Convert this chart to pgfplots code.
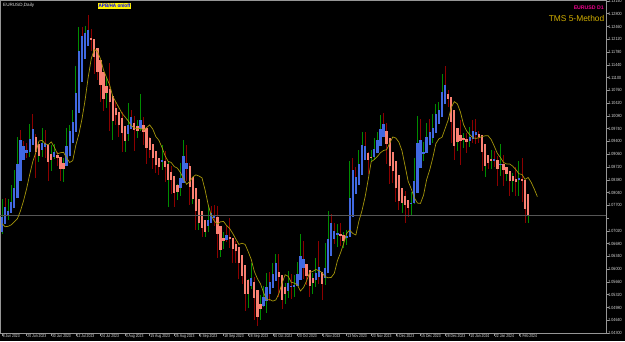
\documentclass[border=0pt]{standalone}
\usepackage{pgfplots}
\pgfplotsset{compat=1.18}
\usepackage{pgfplotstable}
\usepackage{fontspec}
\setmainfont{Liberation Sans}
\definecolor{bullbody}{RGB}{65,105,225}
\definecolor{bearbody}{RGB}{250,128,114}
\definecolor{bullwick}{RGB}{0,140,0}
\definecolor{bearwick}{RGB}{140,0,0}
\definecolor{maline}{RGB}{165,150,10}
\definecolor{axgray}{RGB}{150,150,150}
\definecolor{pricegray}{RGB}{85,85,85}
\definecolor{tmsgold}{RGB}{210,175,0}
\definecolor{lbl}{RGB}{220,220,220}

% Heikin-Ashi style bars: i open high low close, w = 1 green wick / 0 red wick
\pgfplotstableread{
i o h l c w
0 1.0700 1.0786 1.0694 1.0740 1
1 1.0720 1.0790 1.0720 1.0765 0
2 1.0742 1.0788 1.0732 1.0755 1
3 1.0749 1.0823 1.0749 1.0780 1
4 1.0764 1.0865 1.0764 1.0816 1
5 1.0790 1.0951 1.0790 1.0880 1
6 1.0835 1.0971 1.0835 1.0944 0
7 1.0890 1.0942 1.0890 1.0927 0
8 1.0909 1.0935 1.0897 1.0918 0
9 1.0913 1.0986 1.0898 1.0946 1
10 1.0930 1.1012 1.0930 1.0973 0
11 1.0951 1.0960 1.0844 1.0913 0
12 1.0932 1.0932 1.0885 1.0902 1
13 1.0917 1.0976 1.0898 1.0935 1
14 1.0926 1.0970 1.0897 1.0935 0
15 1.0930 1.0930 1.0834 1.0884 0
16 1.0907 1.0930 1.0860 1.0891 1
17 1.0899 1.0934 1.0892 1.0912 1
18 1.0905 1.0913 1.0874 1.0895 0
19 1.0900 1.0900 1.0834 1.0866 0
20 1.0883 1.0895 1.0833 1.0867 1
21 1.0875 1.0975 1.0875 1.0928 1
22 1.0901 1.0985 1.0901 1.0968 1
23 1.0935 1.1025 1.0935 1.0993 1
24 1.0964 1.1140 1.0964 1.1070 1
25 1.1017 1.1245 1.1017 1.1181 1
26 1.1099 1.1245 1.1099 1.1221 0
27 1.1160 1.1248 1.1160 1.1229 1
28 1.1195 1.1276 1.1195 1.1237 0
29 1.1216 1.1240 1.1180 1.1212 0
30 1.1214 1.1214 1.1119 1.1166 0
31 1.1190 1.1190 1.1104 1.1126 0
32 1.1158 1.1158 1.1045 1.1090 0
33 1.1124 1.1124 1.1020 1.1052 0
34 1.1088 1.1109 1.1030 1.1070 1
35 1.1079 1.1149 1.0967 1.1045 0
36 1.1062 1.1062 1.0943 1.0994 1
37 1.1028 1.1045 1.0985 1.1011 0
38 1.1019 1.1019 1.0952 1.0984 0
39 1.1002 1.1018 1.0912 1.0963 0
40 1.0982 1.0982 1.0912 1.0940 1
41 1.0961 1.1042 1.0942 1.0984 1
42 1.0973 1.1025 1.0972 1.1004 0
43 1.0988 1.1008 1.0915 1.0971 0
44 1.0980 1.0998 1.0950 1.0969 1
45 1.0974 1.1065 1.0967 1.0997 1
46 1.0985 1.1004 1.0930 1.0966 0
47 1.0976 1.0976 1.0880 1.0922 0
48 1.0949 1.0953 1.0897 1.0916 0
49 1.0932 1.0934 1.0866 1.0896 0
50 1.0914 1.0914 1.0855 1.0878 0
51 1.0896 1.0896 1.0851 1.0872 0
52 1.0884 1.0930 1.0864 1.0890 1
53 1.0887 1.0914 1.0832 1.0872 0
54 1.0879 1.0887 1.0766 1.0837 1
55 1.0858 1.0875 1.0800 1.0837 0
56 1.0848 1.0848 1.0766 1.0803 0
57 1.0825 1.0828 1.0785 1.0806 1
58 1.0816 1.0882 1.0795 1.0844 1
59 1.0830 1.0945 1.0830 1.0902 1
60 1.0866 1.0930 1.0835 1.0883 0
61 1.0874 1.0882 1.0770 1.0818 0
62 1.0846 1.0846 1.0773 1.0788 1
63 1.0817 1.0817 1.0705 1.0754 0
64 1.0786 1.0786 1.0703 1.0724 1
65 1.0755 1.0755 1.0686 1.0710 0
66 1.0732 1.0732 1.0686 1.0700 1
67 1.0716 1.0767 1.0698 1.0730 1
68 1.0723 1.0768 1.0723 1.0750 0
69 1.0737 1.0770 1.0715 1.0742 0
70 1.0740 1.0768 1.0630 1.0693 0
71 1.0716 1.0716 1.0632 1.0651 1
72 1.0684 1.0699 1.0655 1.0675 1
73 1.0679 1.0718 1.0673 1.0690 0
74 1.0685 1.0737 1.0655 1.0683 0
75 1.0684 1.0684 1.0617 1.0653 0
76 1.0668 1.0675 1.0616 1.0649 0
77 1.0659 1.0659 1.0573 1.0617 0
78 1.0638 1.0638 1.0561 1.0583 0
79 1.0610 1.0610 1.0488 1.0534 0
80 1.0572 1.0574 1.0496 1.0535 1
81 1.0554 1.0617 1.0546 1.0576 1
82 1.0565 1.0579 1.0465 1.0524 0
83 1.0544 1.0544 1.0448 1.0473 0
84 1.0508 1.0532 1.0465 1.0493 1
85 1.0501 1.0554 1.0499 1.0527 1
86 1.0514 1.0589 1.0483 1.0552 1
87 1.0533 1.0592 1.0516 1.0565 0
88 1.0549 1.0616 1.0549 1.0586 1
89 1.0568 1.0640 1.0568 1.0616 1
90 1.0592 1.0640 1.0525 1.0579 0
91 1.0585 1.0585 1.0495 1.0518 0
92 1.0552 1.0564 1.0506 1.0534 1
93 1.0543 1.0594 1.0523 1.0563 1
94 1.0553 1.0588 1.0521 1.0556 0
95 1.0554 1.0585 1.0525 1.0557 1
96 1.0556 1.0620 1.0556 1.0588 1
97 1.0572 1.0695 1.0572 1.0634 1
98 1.0603 1.0676 1.0575 1.0628 0
99 1.0615 1.0615 1.0557 1.0581 0
100 1.0598 1.0598 1.0525 1.0556 0
101 1.0577 1.0590 1.0535 1.0563 1
102 1.0570 1.0630 1.0552 1.0590 1
103 1.0580 1.0675 1.0560 1.0606 0
104 1.0593 1.0593 1.0517 1.0561 0
105 1.0577 1.0669 1.0557 1.0604 1
106 1.0591 1.0756 1.0591 1.0680 1
107 1.0635 1.0747 1.0635 1.0723 0
108 1.0679 1.0723 1.0667 1.0702 0
109 1.0691 1.0720 1.0660 1.0697 1
110 1.0694 1.0722 1.0662 1.0690 0
111 1.0692 1.0698 1.0656 1.0676 1
112 1.0684 1.0704 1.0665 1.0688 1
113 1.0686 1.0887 1.0686 1.0790 1
114 1.0738 1.0895 1.0738 1.0863 0
115 1.0801 1.0872 1.0801 1.0846 0
116 1.0823 1.0917 1.0823 1.0879 1
117 1.0851 1.0965 1.0851 1.0931 1
118 1.0891 1.0965 1.0891 1.0929 0
119 1.0910 1.0912 1.0852 1.0890 0
120 1.0900 1.0918 1.0885 1.0898 1
121 1.0899 1.0950 1.0892 1.0921 1
122 1.0910 1.0965 1.0910 1.0945 1
123 1.0928 1.1010 1.0928 1.0974 1
124 1.0951 1.1017 1.0951 1.0987 0
125 1.0969 1.0989 1.0880 1.0932 0
126 1.0950 1.0950 1.0828 1.0875 0
127 1.0912 1.0912 1.0830 1.0861 0
128 1.0887 1.0887 1.0780 1.0815 0
129 1.0851 1.0851 1.0758 1.0782 0
130 1.0816 1.0816 1.0750 1.0775 1
131 1.0796 1.0808 1.0723 1.0772 0
132 1.0784 1.0784 1.0740 1.0762 0
133 1.0773 1.0805 1.0745 1.0777 1
134 1.0775 1.0895 1.0773 1.0834 1
135 1.0804 1.1009 1.0804 1.0936 1
136 1.0870 1.0999 1.0870 1.0944 0
137 1.0907 1.0938 1.0887 1.0911 1
138 1.0909 1.0988 1.0909 1.0951 1
139 1.0930 1.1000 1.0930 1.0965 0
140 1.0948 1.1012 1.0937 1.0976 1
141 1.0962 1.1040 1.0962 1.1013 1
142 1.0987 1.1045 1.0987 1.1025 1
143 1.1006 1.1120 1.1006 1.1073 1
144 1.1040 1.1140 1.1040 1.1090 0
145 1.1065 1.1078 1.1032 1.1053 0
146 1.1059 1.1059 1.0937 1.0991 0
147 1.1025 1.1025 1.0892 1.0929 0
148 1.0977 1.0977 1.0915 1.0938 1
149 1.0958 1.0998 1.0877 1.0940 0
150 1.0949 1.0963 1.0922 1.0944 1
151 1.0946 1.0962 1.0910 1.0938 0
152 1.0942 1.0979 1.0925 1.0952 1
153 1.0947 1.0998 1.0935 1.0969 0
154 1.0958 1.0999 1.0934 1.0964 0
155 1.0961 1.0967 1.0937 1.0952 0
156 1.0956 1.0956 1.0862 1.0911 0
157 1.0934 1.0934 1.0845 1.0875 1
158 1.0904 1.0904 1.0867 1.0882 0
159 1.0893 1.0916 1.0866 1.0889 1
160 1.0891 1.0915 1.0873 1.0893 0
161 1.0892 1.0901 1.0821 1.0866 0
162 1.0879 1.0932 1.0849 1.0880 1
163 1.0880 1.0905 1.0822 1.0864 0
164 1.0872 1.0872 1.0835 1.0852 1
165 1.0862 1.0862 1.0795 1.0835 0
166 1.0849 1.0855 1.0805 1.0834 1
167 1.0841 1.0873 1.0795 1.0832 0
168 1.0837 1.0888 1.0795 1.0843 1
169 1.0840 1.0897 1.0780 1.0834 0
170 1.0837 1.0837 1.0723 1.0761 0
171 1.0799 1.0799 1.0722 1.0741 1
}\ha

% moving average line
\pgfplotstableread{
j v
0 1.0721
1 1.0713
2 1.0714
3 1.0718
4 1.0726
5 1.0734
6 1.0755
7 1.0782
8 1.0814
9 1.0852
10 1.0886
11 1.0911
12 1.0941
13 1.0943
14 1.0934
15 1.0931
16 1.0939
17 1.0925
18 1.0907
19 1.0910
20 1.0911
21 1.0896
22 1.0884
23 1.0889
24 1.0930
25 1.0960
26 1.1000
27 1.1050
28 1.1110
29 1.1160
30 1.1185
31 1.1180
32 1.1160
33 1.1130
34 1.1110
35 1.1090
36 1.1060
37 1.1045
38 1.1030
39 1.1015
40 1.1005
41 1.0995
42 1.0982
43 1.0976
44 1.0974
45 1.0975
46 1.0970
47 1.0977
48 1.0984
49 1.0973
50 1.0953
51 1.0943
52 1.0924
53 1.0902
54 1.0887
55 1.0884
56 1.0873
57 1.0869
58 1.0857
59 1.0841
60 1.0826
61 1.0833
62 1.0845
63 1.0851
64 1.0848
65 1.0843
66 1.0811
67 1.0772
68 1.0743
69 1.0728
70 1.0720
71 1.0726
72 1.0727
73 1.0716
74 1.0708
75 1.0695
76 1.0680
77 1.0666
78 1.0669
79 1.0666
80 1.0647
81 1.0626
82 1.0594
83 1.0575
84 1.0561
85 1.0538
86 1.0518
87 1.0519
88 1.0515
89 1.0518
90 1.0535
91 1.0562
92 1.0585
93 1.0581
94 1.0565
95 1.0563
96 1.0558
97 1.0542
98 1.0551
99 1.0569
100 1.0591
101 1.0594
102 1.0599
103 1.0596
104 1.0591
105 1.0580
106 1.0577
107 1.0578
108 1.0589
109 1.0622
110 1.0643
111 1.0667
112 1.0695
113 1.0704
114 1.0695
115 1.0691
116 1.0728
117 1.0756
118 1.0792
119 1.0838
120 1.0886
121 1.0892
122 1.0900
123 1.0910
124 1.0916
125 1.0918
126 1.0935
127 1.0952
128 1.0949
129 1.0938
130 1.0915
131 1.0875
132 1.0834
133 1.0814
134 1.0790
135 1.0776
136 1.0775
137 1.0797
138 1.0838
139 1.0864
140 1.0896
141 1.0934
142 1.0947
143 1.0951
144 1.0974
145 1.0997
146 1.1030
147 1.1046
148 1.1040
149 1.1018
150 1.0985
151 1.0968
152 1.0958
153 1.0950
154 1.0948
155 1.0950
156 1.0953
157 1.0955
158 1.0955
159 1.0945
160 1.0927
161 1.0908
162 1.0897
163 1.0884
164 1.0880
165 1.0880
166 1.0874
167 1.0865
168 1.0854
169 1.0852
170 1.0839
171 1.0844
172 1.0831
173 1.0813
174 1.0793
}\ma

\begin{document}
\begin{tikzpicture}
\useasboundingbox (0,0) rectangle (625pt,341pt);
\fill[black] (0,0) rectangle (625pt,341pt);
\begin{axis}[
  at={(0pt,8pt)}, anchor=south west,
  scale only axis, width=606pt, height=333pt,
  xmin=-0.65, xmax=196.3, ymin=1.0430, ymax=1.13166,
  axis line style={axgray, line width=0.6pt},
  xtick pos=bottom, ytick pos=right, yticklabel pos=right,
  tick align=outside, major tick length=3pt,
  tick style={axgray, line width=0.5pt},
  xtick={0,8,...,168},
  xticklabels={8 Jun 2023,20 Jun 2023,30 Jun 2023,12 Jul 2023,24 Jul 2023,3 Aug 2023,15 Aug 2023,25 Aug 2023,6 Sep 2023,18 Sep 2023,28 Sep 2023,10 Oct 2023,20 Oct 2023,1 Nov 2023,13 Nov 2023,23 Nov 2023,5 Dec 2023,15 Dec 2023,28 Dec 2023,10 Jan 2024,22 Jan 2024,1 Feb 2024},
  xticklabel style={anchor=north west, font=\fontsize{4.4}{5}\selectfont, text=lbl, inner sep=0pt, xscale=0.78, xshift=0.8pt, yshift=1.5pt},
  ytick={1.0430,1.0464,1.0498,1.0532,1.0566,1.0600,1.0634,1.0668,1.0702,1.0736,1.0770,1.0804,1.0838,1.0872,1.0906,1.0940,1.0974,1.1008,1.1042,1.1076,1.1110,1.1144,1.1178,1.1212,1.1246,1.1280,1.1314},
  yticklabels={1.04300,1.04640,1.04980,1.05320,1.05660,1.06000,1.06340,1.06680,1.07020,{},1.07700,1.08040,1.08380,1.08720,1.09060,1.09400,1.09740,1.10080,1.10420,1.10760,1.11100,1.11440,1.11780,1.12120,1.12460,1.12800,1.13140},
  yticklabel style={anchor=west, font=\fontsize{4.5}{5}\selectfont, text=lbl, inner sep=0pt, xscale=0.82, xshift=-1pt},
]
% wicks
\addplot[draw=none, forget plot, restrict expr to domain={\thisrow{w}}{0.5:1.5},
  error bars/.cd, y dir=both, y explicit, error mark=none,
  error bar style={draw=bullwick, line width=0.9pt}]
  table[x=i, y expr={(\thisrow{h}+\thisrow{l})/2}, y error expr={(\thisrow{h}-\thisrow{l})/2}] {\ha};
\addplot[draw=none, forget plot, restrict expr to domain={\thisrow{w}}{-0.5:0.5},
  error bars/.cd, y dir=both, y explicit, error mark=none,
  error bar style={draw=bearwick, line width=0.9pt}]
  table[x=i, y expr={(\thisrow{h}+\thisrow{l})/2}, y error expr={(\thisrow{h}-\thisrow{l})/2}] {\ha};
% bodies
\addplot[draw=none, forget plot, restrict expr to domain={\thisrow{c}-\thisrow{o}}{0:1},
  error bars/.cd, y dir=both, y explicit, error mark=none,
  error bar style={draw=bullbody, line width=2.3pt}]
  table[x=i, y expr={(\thisrow{o}+\thisrow{c})/2}, y error expr={abs(\thisrow{c}-\thisrow{o})/2}] {\ha};
\addplot[draw=none, forget plot, restrict expr to domain={\thisrow{c}-\thisrow{o}}{-1:-0.000001},
  error bars/.cd, y dir=both, y explicit, error mark=none,
  error bar style={draw=bearbody, line width=2.3pt}]
  table[x=i, y expr={(\thisrow{o}+\thisrow{c})/2}, y error expr={abs(\thisrow{c}-\thisrow{o})/2}] {\ha};
% current price line
\addplot[forget plot, draw=pricegray, line width=0.4pt] coordinates {(-1,1.0743) (197,1.0743)};
% moving average
\addplot[forget plot, draw=maline, line width=0.7pt, mark=none] table[x=j, y=v] {\ma};
\node[fill=white, text=black, anchor=west, inner sep=0.7pt, font=\fontsize{4.5}{5}\selectfont, xscale=0.82, xshift=0.5pt] at (axis cs:196.3,1.0743) {1.07432};
\end{axis}
\node[anchor=west, text=lbl, font=\fontsize{4.6}{5}\selectfont, inner sep=0pt] at (3pt,335.5pt) {EURUSD,Daily};
\node[fill=yellow, text=blue, font=\bfseries\fontsize{5}{6}\selectfont, inner sep=1.2pt, xscale=0.92] at (114.5pt,335pt) {APB/HA on/off};
\node[anchor=east, text=magenta, font=\bfseries\fontsize{5.2}{6}\selectfont, inner sep=0pt] at (604pt,333.5pt) {EURUSD D1};
\node[anchor=east, text=tmsgold, font=\fontsize{8.4}{9}\selectfont, inner sep=0pt] at (604.5pt,323pt) {TMS 5-Method};
\end{tikzpicture}
\end{document}
